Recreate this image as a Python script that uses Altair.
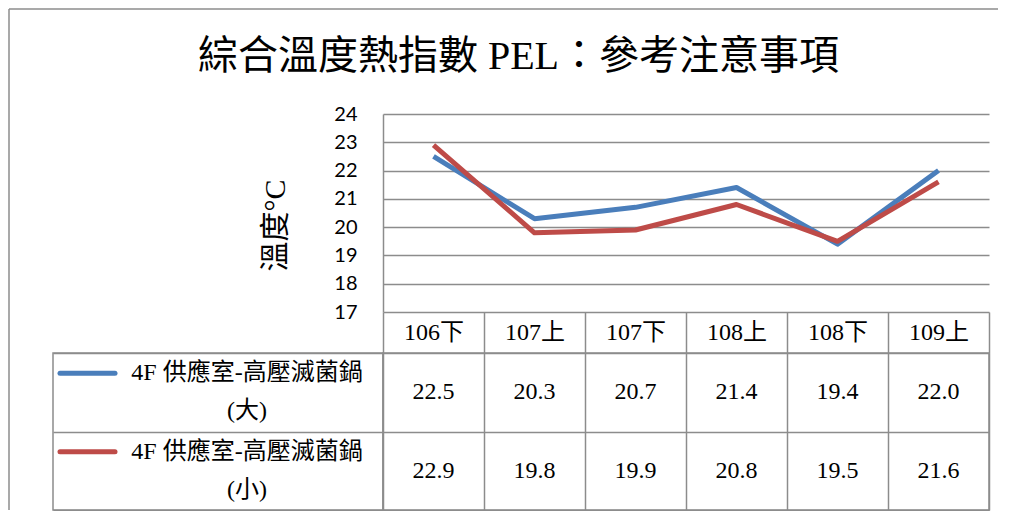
import altair as alt
import pandas as pd

# ---- data ----
categories = ["106下", "107上", "107下", "108上", "108下", "109上"]
series_names = ["4F 供應室-高壓滅菌鍋(大)", "4F 供應室-高壓滅菌鍋(小)"]
values_big = [22.5, 20.3, 20.7, 21.4, 19.4, 22.0]
values_small = [22.9, 19.8, 19.9, 20.8, 19.5, 21.6]
y_ticks = [17, 18, 19, 20, 21, 22, 23, 24]
title_text = "綜合溫度熱指數 PEL：參考注意事項"
y_title = "溫度°C"
colors = ["#4A7EBB", "#BE4B48"]

rows = []
for s, vals in zip(series_names, [values_big, values_small]):
    for i, (c, v) in enumerate(zip(categories, vals)):
        rows.append({"series": s, "period": c, "idx": i, "value": v})
df = pd.DataFrame(rows)
legend_df = pd.DataFrame({"series": series_names})

GRAY = "#8c8c8c"
SERIF = "Liberation Serif, Noto Sans CJK TC"

color_enc = alt.Color("series:N", sort=series_names,
                      scale=alt.Scale(domain=series_names, range=colors), legend=None)

# ---- line chart ----
line = alt.Chart(df).mark_line(strokeWidth=5, strokeJoin="round").encode(
    x=alt.X("period:N", sort=categories,
            scale=alt.Scale(type="point", padding=0.5), axis=None),
    y=alt.Y("value:Q",
            scale=alt.Scale(domain=[17, 24], nice=False, zero=False),
            axis=alt.Axis(values=y_ticks, grid=True, gridColor=GRAY, gridWidth=1.5,
                          domain=True, domainColor=GRAY, domainWidth=1.5,
                          ticks=False, tickSize=0, labelPadding=26,
                          labelFont="Lato", labelFontSize=20, labelColor="#000",
                          title=y_title, titleFont=SERIF, titleFontSize=30,
                          titleFontWeight="normal", titleColor="#000",
                          titleX=-108, titleY=111, titleBaseline="middle",
                          titleAlign="center")),
    color=color_enc,
    order=alt.Order("idx:Q"),
).properties(width=606, height=198, view=alt.ViewBackground(strokeOpacity=0))

# ---- frame / blank cell ----
frame_df = pd.DataFrame({"k": [0]})
left_rule = alt.Chart(frame_df).mark_rule(color=GRAY, strokeWidth=1.5).encode(
    x=alt.value(-44), y=alt.value(-105), y2=alt.value(396))
top_rule = alt.Chart(frame_df).mark_rule(color=GRAY, strokeWidth=1.5).encode(
    x=alt.value(-44), x2=alt.value(945), y=alt.value(-105))
blank = alt.layer(left_rule, top_rule).properties(
    width=330, height=198, view=alt.ViewBackground(strokeOpacity=0))

# ---- legend column ----
band_axis = alt.Axis(title=None, labels=False, ticks=False, domain=False, grid=True,
                     gridColor=GRAY, gridWidth=1.5, tickBand="extent")
band_y = alt.Scale(type="band", paddingInner=0, paddingOuter=0)

swatch = alt.Chart(legend_df).mark_rule(strokeWidth=5, strokeCap="round", yOffset=-19).encode(
    x=alt.value(7), x2=alt.value(62),
    y=alt.Y("series:N", sort=series_names, scale=band_y, axis=band_axis, bandPosition=0.5),
    color=color_enc,
)
legend_text = alt.Chart(legend_df).transform_calculate(
    label="replace(datum.series, '(', '\\n(')"
).mark_text(font=SERIF, fontSize=24, lineBreak="\n", lineHeight=38, yOffset=-19,
            align="center", baseline="middle", color="#000").encode(
    x=alt.value(194),
    y=alt.Y("series:N", sort=series_names, scale=band_y, axis=band_axis),
    text="label:N",
)
legend_col = alt.layer(swatch, legend_text).properties(width=330, height=157)

# ---- data table ----
table = alt.Chart(df).mark_text(font="Liberation Serif", fontSize=24, color="#000").encode(
    x=alt.X("period:N", sort=categories,
            scale=alt.Scale(type="band", paddingInner=0, paddingOuter=0),
            axis=alt.Axis(orient="top", title=None, labelAngle=0, labelFont=SERIF,
                          labelFontSize=24, labelColor="#000", labelPadding=-20.5,
                          labelBaseline="middle", ticks=True, tickSize=41,
                          tickColor=GRAY, tickWidth=1.5, tickBand="extent",
                          grid=True, gridColor=GRAY, gridWidth=1.5, domain=False)),
    y=alt.Y("series:N", sort=series_names, scale=band_y, axis=band_axis),
    text=alt.Text("value:Q", format=".1f"),
).properties(width=606, height=157)

chart = alt.concat(
    blank, line, legend_col, table,
    columns=2,
    spacing=alt.RowColnumber(row=41, column=0),
    bounds="flush",
).properties(
    title=alt.TitleParams(title_text, font=SERIF, fontSize=40, fontWeight="normal",
                          color="#000", anchor="middle", frame="bounds",
                          offset=-69, dx=15),
    padding={"left": 0, "top": 0, "right": 0, "bottom": 0},
    background="white",
).configure_view(stroke=GRAY, strokeWidth=1.5)

chart.save("out.html", embed_options={"renderer": "svg", "actions": False})
